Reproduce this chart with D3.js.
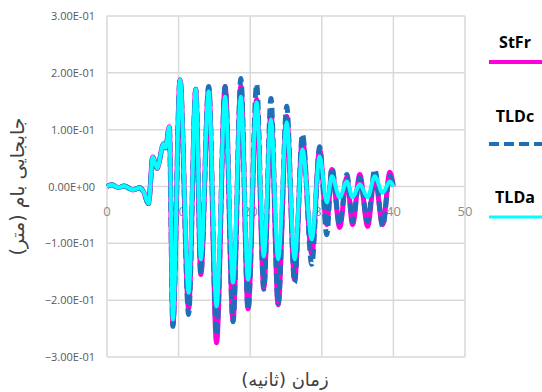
<!DOCTYPE html>
<html>
<head>
<meta charset="utf-8">
<script src="https://cdn.jsdelivr.net/npm/d3@7"></script>
<style>
  body { margin: 0; background: #fff; }
  text { font-family: "Open Sans", "Liberation Sans", sans-serif; }
</style>
</head>
<body>
<div id="chart"></div>
<script>
// time (s)
const times = [0, 0.7, 1.6, 2.4, 3.6, 4.6, 5.1, 5.8, 6.4, 7.0, 7.9, 8.2, 8.7,
  9.2, 10.2, 11.4, 12.4, 13.1, 14.2, 15.3, 16.5, 17.6, 18.7,
  19.7, 20.9, 21.9, 22.9, 23.9, 25.1, 26.2, 27.3, 28.6, 29.7,
  30.7, 31.4, 32.5, 33.5, 34.3, 35.3, 36.4, 37.4, 38.5, 39.5, 40.0];

// roof displacement (m)
const stfr = [0, 0.003, -0.002, 0.001, -0.006, -0.002, -0.009, -0.03, 0.052, 0.032, 0.075, 0.068, 0.105,
  -0.243, 0.188, -0.215, 0.171, -0.155, 0.174, -0.275, 0.176, -0.235, 0.177,
  -0.215, 0.153, -0.178, 0.13, -0.208, 0.123, -0.164, 0.083, -0.12, 0.065,
  -0.067, 0.03, -0.072, 0.016, -0.067, 0.021, -0.07, 0.018, -0.067, 0.025, 0.0];
const tldc = [0, 0.003, -0.002, 0.001, -0.006, -0.002, -0.009, -0.03, 0.052, 0.032, 0.075, 0.068, 0.105,
  -0.246, 0.188, -0.225, 0.171, -0.155, 0.176, -0.261, 0.176, -0.238, 0.19,
  -0.217, 0.18, -0.181, 0.155, -0.206, 0.141, -0.169, 0.092, -0.137, 0.07,
  -0.085, 0.033, -0.067, 0.021, -0.062, 0.016, -0.062, 0.03, -0.07, 0.018, 0.0];
const tlda = [0, 0.003, -0.002, 0.001, -0.006, -0.002, -0.009, -0.03, 0.052, 0.032, 0.075, 0.068, 0.105,
  -0.234, 0.188, -0.187, 0.171, -0.128, 0.167, -0.211, 0.158, -0.169, 0.158,
  -0.164, 0.148, -0.123, 0.118, -0.128, 0.113, -0.128, 0.065, -0.093, 0.053,
  -0.028, 0.018, -0.019, 0.009, -0.019, 0.004, -0.019, 0.018, -0.011, 0.009, 0.0];

const xTicks = [0, 10, 20, 30, 40, 50];
const yTicks = [-0.3, -0.2, -0.1, 0, 0.1, 0.2, 0.3];

const seriesNames = ['StFr', 'TLDc', 'TLDa'];
const seriesColors = ['#ff00dd', '#1f6fb8', '#00ffff'];

const width = 542, height = 392;
const svg = d3.select('#chart').append('svg')
  .attr('width', width)
  .attr('height', height);

const x = d3.scaleLinear().domain([0, 50]).range([107, 465]);
const y = d3.scaleLinear().domain([-0.3, 0.3]).range([357, 16]);

// grid
svg.append('g').selectAll('line.h')
  .data(yTicks).enter().append('line')
    .attr('x1', x(0)).attr('x2', x(50))
    .attr('y1', d => y(d)).attr('y2', d => y(d))
    .attr('stroke', '#d9d9d9').attr('stroke-width', 1.5);
svg.append('g').selectAll('line.v')
  .data(xTicks).enter().append('line')
    .attr('x1', d => x(d)).attr('x2', d => x(d))
    .attr('y1', y(0.3)).attr('y2', y(-0.3))
    .attr('stroke', '#d9d9d9').attr('stroke-width', 1.5);

// y tick labels
svg.append('g').selectAll('text')
  .data(yTicks).enter().append('text')
    .attr('x', 95)
    .attr('y', d => y(d) + 4)
    .attr('text-anchor', 'end')
    .attr('font-size', 11)
    .attr('fill', '#595959')
    .text(d => d3.format('.2e')(d).replace('e-', 'E-0').replace('e+', 'E+0').replace('-0.00', '0.00'));

// x tick labels, sitting under the zero line
svg.append('g').selectAll('text')
  .data(xTicks).enter().append('text')
    .attr('x', d => x(d))
    .attr('y', y(0) + 29)
    .attr('text-anchor', 'middle')
    .attr('font-size', 13)
    .attr('fill', '#8c8c8c')
    .text(d => d);

// series
const line = d3.line()
  .x(d => x(d[0]))
  .y(d => y(d[1]))
  .curve(d3.curveMonotoneX);

const values = [stfr, tldc, tlda];
const widths = [5, 5, 4];
values.forEach((v, i) => {
  svg.append('path')
    .datum(times.map((t, j) => [t, v[j]]))
    .attr('d', line)
    .attr('fill', 'none')
    .attr('stroke', seriesColors[i])
    .attr('stroke-width', widths[i])
    .attr('stroke-linejoin', 'round')
    .attr('stroke-dasharray', i === 1 ? '10,5' : null);
});

// axis titles
svg.append('text')
  .attr('transform', `translate(24, ${y(0)}) rotate(-90)`)
  .attr('text-anchor', 'middle')
  .attr('font-size', 19)
  .attr('fill', '#404040')
  .style('font-family', '"DejaVu Sans", sans-serif')
  .text('جابجایی بام (متر)');

svg.append('text')
  .attr('x', 285)
  .attr('y', 386)
  .attr('text-anchor', 'middle')
  .attr('font-size', 18)
  .attr('fill', '#404040')
  .style('font-family', '"DejaVu Sans", sans-serif')
  .text('زمان (ثانیه)');

// legend
const legendY = [48, 122, 203];
const lg = svg.append('g');
seriesNames.forEach((name, i) => {
  lg.append('text')
    .attr('x', 515)
    .attr('y', legendY[i])
    .attr('text-anchor', 'middle')
    .attr('font-size', 16)
    .attr('font-weight', 'bold')
    .attr('fill', '#000')
    .text(name);
  lg.append('line')
    .attr('x1', 489).attr('x2', 542)
    .attr('y1', legendY[i] + (i === 1 ? 22 : 14))
    .attr('y2', legendY[i] + (i === 1 ? 22 : 14))
    .attr('stroke', seriesColors[i])
    .attr('stroke-width', i === 2 ? 3 : 4)
    .attr('stroke-dasharray', i === 1 ? '10,5' : null);
});
</script>
</body>
</html>
